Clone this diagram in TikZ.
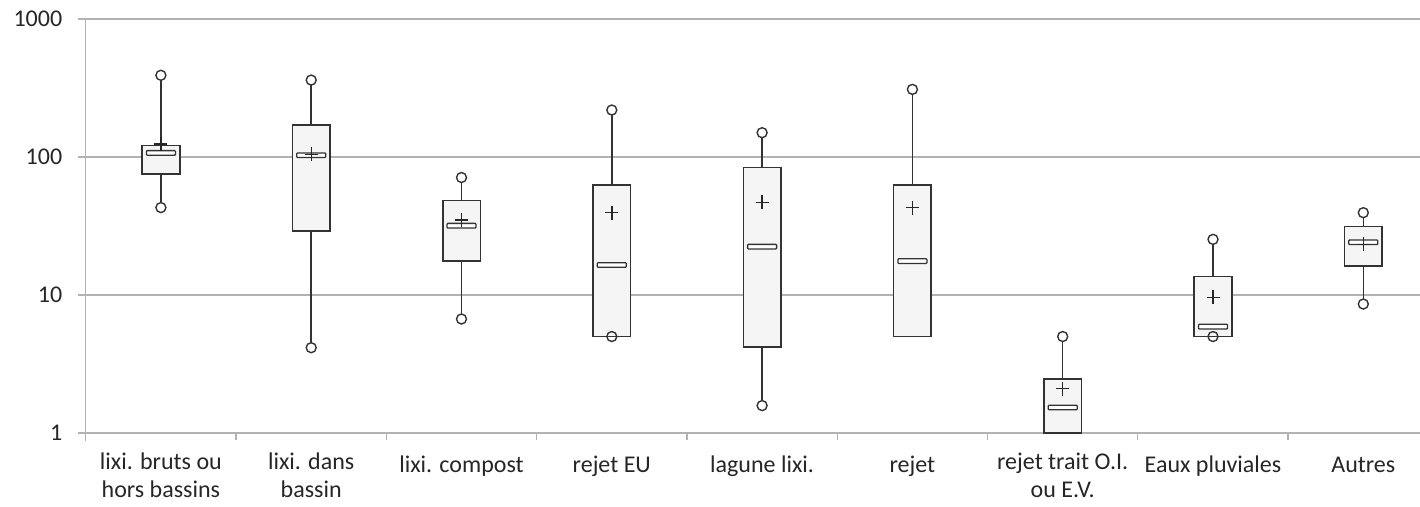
\documentclass[tikz,border=0pt]{standalone}
\usepackage{fontspec}
\setmainfont{Carlito}

\tikzset{
  grid line/.style={draw=black!30, line width=1.5pt},
  tick mark/.style={draw=black!30, line width=1.3pt},
  whisker/.style={draw=black!80, line width=1.5pt},
  box body/.style={draw=black!80, fill=black!4, line width=1.6pt},
  median bar/.style={draw=black!80, fill=white, line width=1.3pt, rounded corners=0.8pt},
  mean mark/.style={draw=black!85, line width=1.4pt},
  end circle/.style={draw=black!80, line width=1.4pt},
  cat label/.style={font=\fontsize{24}{28.3}\selectfont, text=black!85, align=center,
    anchor=north, inner sep=0pt, execute at begin node=\strut},
  val label/.style={font=\fontsize{24}{28.3}\selectfont, text=black!85, anchor=east}
}

\begin{document}
\begin{tikzpicture}[x=1pt, y=1pt, declare function={ly(\v)=138*log10(\v);}]
  \useasboundingbox (-85.7,-73) rectangle (1334.3,433);

  % grid and axes
  \foreach \e in {1,2,3}
    \draw[grid line] (-7.7,{138*\e}) -- (1334.3,{138*\e});
  \draw[grid line] (-7.7,0) -- (1334.3,0);
  \draw[grid line] (0,414) -- (0,-8);
  \foreach \i in {1,...,8}
    \draw[tick mark] ({150.3*\i},0) -- ({150.3*\i},-7);

  % value labels
  \foreach \e/\txt in {0/1, 1/10, 2/100, 3/1000}
    \node[val label] (val\e) at (-20,{138*\e}) {\txt};

  % boxes: x / min / q1 / median / q3 / max / mean / low circle
  \foreach \x/\lo/\qa/\md/\qb/\hi/\mn/\lc in {
      75.2/43/75/107/121/391/124/1,
      225.5/4.15/29/103/171/361/104.5/1,
      375.8/6.7/17.6/31.8/48.5/71/35/1,
      526.1/5/5/16.5/62.4/219/39.5/1,
      676.4/1.58/4.2/22.4/84/150/47/1,
      826.7/5/5/17.6/62.4/309/43/0,
      977/1/1/1.53/2.46/5/2.1/0,
      1127.3/5/5/5.9/13.6/25.3/9.6/1,
      1277.6/8.6/16.3/24.1/31.3/39.5/23.3/1} {
    \draw[whisker] (\x,{ly(\qb)}) -- (\x,{ly(\hi)-5});
    \draw[whisker] (\x,{ly(\qa)}) -- (\x,{ly(\lo)+5});
    \draw[box body] ({\x-18.8},{ly(\qa)}) rectangle ({\x+18.8},{ly(\qb)});
    \draw[median bar] ({\x-14.5},{ly(\md)-2.3}) rectangle ({\x+14.5},{ly(\md)+2.3});
    \draw[mean mark] ({\x-6.5},{ly(\mn)}) -- ({\x+6.5},{ly(\mn)})
                     (\x,{ly(\mn)-7}) -- (\x,{ly(\mn)+7});
    \draw[end circle] (\x,{ly(\hi)}) circle (5);
    \ifnum\lc=1
      \draw[end circle] (\x,{ly(\lo)}) circle (5);
    \fi
  }

  % category labels
  \foreach \x/\txt [count=\i] in {
      75.2/{lixi. bruts ou\\hors bassins},
      225.5/{lixi. dans\\bassin},
      375.8/{lixi. compost},
      526.1/{rejet EU},
      676.4/{lagune lixi.},
      826.7/{rejet},
      977/{rejet trait O.I.\\ou E.V.},
      1127.3/{Eaux pluviales},
      1277.6/{Autres}}
    \node[cat label] (cat\i) at (\x,-19.5) {\txt};
\end{tikzpicture}
\end{document}
